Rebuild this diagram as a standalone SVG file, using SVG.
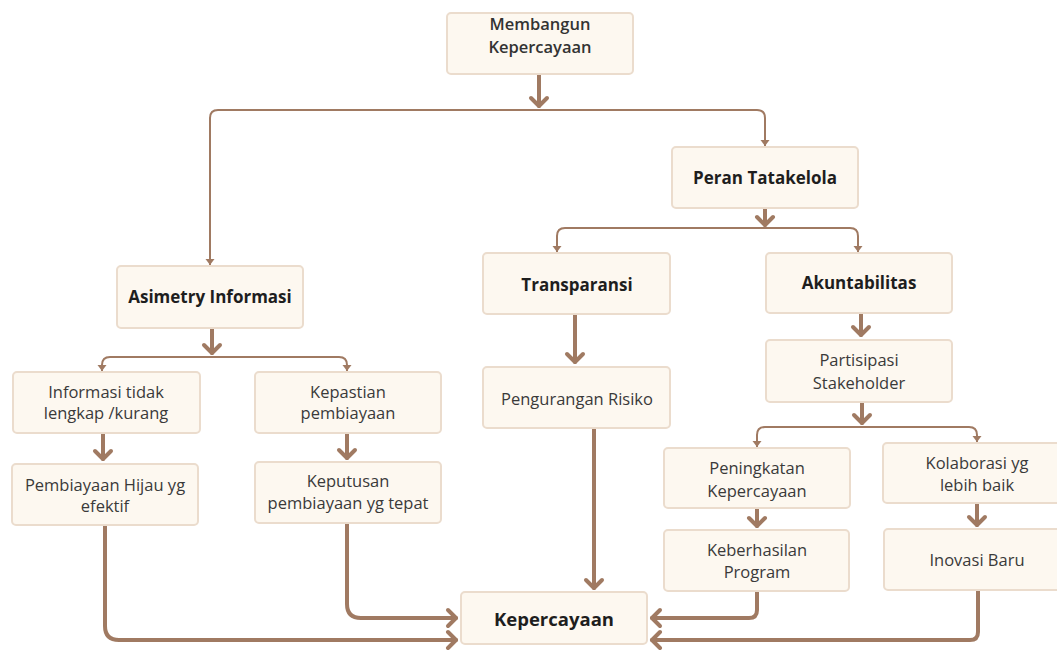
<svg xmlns="http://www.w3.org/2000/svg" width="1057" height="650" viewBox="0 0 1057 650">
<style>
.box{fill:#fdf8f0;stroke:#ebdccd;stroke-width:2}
.t{font-family:"Open Sans","Noto Sans",sans-serif;font-size:16.5px;fill:#3a3a3a;text-anchor:middle}
.b{font-weight:bold;font-size:17px;fill:#1e1e1e}
.k{font-size:18.5px}
.m{font-weight:600;fill:#333}
.thick{fill:none;stroke:#a07a62;stroke-width:4;stroke-linecap:round;stroke-linejoin:round}
.thin{fill:none;stroke:#a07a62;stroke-width:2}
</style>
<defs>
<marker id="chev" markerUnits="userSpaceOnUse" viewBox="-12 -12 24 24" markerWidth="24" markerHeight="24" refX="0" refY="0" orient="auto">
<path d="M-8,-8 L0,0 L-8,8" fill="none" stroke="#a07a62" stroke-width="4" stroke-linecap="round" stroke-linejoin="round"/>
</marker>
<marker id="tri" markerUnits="userSpaceOnUse" viewBox="-10 -10 20 20" markerWidth="20" markerHeight="20" refX="0" refY="0" orient="auto">
<path d="M-6,-4.5 L0,0 L-6,4.5 z" fill="#a07a62"/>
</marker>
</defs>
<rect width="1057" height="650" fill="#ffffff"/>
<g id="connectors">
<path class="thick" d="M539,75 V106" marker-end="url(#chev)"/>
<path class="thin" d="M539,110 H218 Q210,110 210,118 V265" marker-end="url(#tri)"/>
<path class="thin" d="M539,110 H757 Q765,110 765,118 V146" marker-end="url(#tri)"/>
<path class="thick" d="M765,209 V225" marker-end="url(#chev)"/>
<path class="thin" d="M765,228 H565 Q557,228 557,236 V252" marker-end="url(#tri)"/>
<path class="thin" d="M765,228 H850 Q858,228 858,236 V252" marker-end="url(#tri)"/>
<path class="thick" d="M212,329 V353" marker-end="url(#chev)"/>
<path class="thin" d="M212,357 H110 Q102,357 102,365 V371" marker-end="url(#tri)"/>
<path class="thin" d="M212,357 H339 Q347,357 347,365 V371" marker-end="url(#tri)"/>
<path class="thick" d="M103,434 V459" marker-end="url(#chev)"/>
<path class="thick" d="M347,434 V458" marker-end="url(#chev)"/>
<path class="thick" d="M575,315 V362" marker-end="url(#chev)"/>
<path class="thick" d="M861,314 V335" marker-end="url(#chev)"/>
<path class="thick" d="M862,403 V423" marker-end="url(#chev)"/>
<path class="thin" d="M862,427 H765 Q757,427 757,435 V447" marker-end="url(#tri)"/>
<path class="thin" d="M862,427 H969 Q977,427 977,435 V442" marker-end="url(#tri)"/>
<path class="thick" d="M757,509 V526" marker-end="url(#chev)"/>
<path class="thick" d="M977,504 V525" marker-end="url(#chev)"/>
<path class="thick" d="M594,429 V588" marker-end="url(#chev)"/>
<path class="thick" d="M347,524 V604 Q347,618 361,618 H456" marker-end="url(#chev)"/>
<path class="thick" d="M105,526 V626 Q105,640 119,640 H456" marker-end="url(#chev)"/>
<path class="thick" d="M757,592 V610 Q757,618 749,618 H652" marker-end="url(#chev)"/>
<path class="thick" d="M978,591 V632 Q978,640 970,640 H652" marker-end="url(#chev)"/>
</g>
<g id="n-membangun"><rect class="box" x="447" y="13" width="186" height="61" rx="4"/>
<text class="t m" x="540" y="30">Membangun</text><text class="t m" x="540" y="53">Kepercayaan</text></g>
<g id="n-peran"><rect class="box" x="672" y="147" width="186" height="61" rx="4"/>
<text class="t b" x="765" y="184">Peran Tatakelola</text></g>
<g id="n-asimetry"><rect class="box" x="117" y="266" width="186" height="62" rx="4"/>
<text class="t b" x="210" y="303">Asimetry Informasi</text></g>
<g id="n-transparansi"><rect class="box" x="483" y="253" width="187" height="61" rx="4"/>
<text class="t b" x="577" y="291">Transparansi</text></g>
<g id="n-akuntabilitas"><rect class="box" x="766" y="253" width="186" height="60" rx="4"/>
<text class="t b" x="859" y="289">Akuntabilitas</text></g>
<g id="n-partisipasi"><rect class="box" x="766" y="340" width="186" height="62" rx="4"/>
<text class="t" x="859" y="366">Partisipasi</text><text class="t" x="859" y="389">Stakeholder</text></g>
<g id="n-pengurangan"><rect class="box" x="483" y="367" width="187" height="61" rx="4"/>
<text class="t" x="577" y="405">Pengurangan Risiko</text></g>
<g id="n-informasi"><rect class="box" x="13" y="372" width="187" height="61" rx="4"/>
<text class="t" x="106" y="398">Informasi tidak</text><text class="t" x="106" y="419">lengkap /kurang</text></g>
<g id="n-kepastian"><rect class="box" x="255" y="372" width="186" height="61" rx="4"/>
<text class="t" x="348" y="398">Kepastian</text><text class="t" x="348" y="419">pembiayaan</text></g>
<g id="n-hijau"><rect class="box" x="12" y="464" width="186" height="61" rx="4"/>
<text class="t" x="105" y="491">Pembiayaan Hijau yg</text><text class="t" x="105" y="512">efektif</text></g>
<g id="n-keputusan"><rect class="box" x="255" y="462" width="186" height="61" rx="4"/>
<text class="t" x="348" y="487">Keputusan</text><text class="t" x="348" y="509">pembiayaan yg tepat</text></g>
<g id="n-peningkatan"><rect class="box" x="664" y="448" width="186" height="60" rx="4"/>
<text class="t" x="757" y="474">Peningkatan</text><text class="t" x="757" y="497">Kepercayaan</text></g>
<g id="n-keberhasilan"><rect class="box" x="664" y="530" width="185" height="61" rx="4"/>
<text class="t" x="757" y="556">Keberhasilan</text><text class="t" x="757" y="578">Program</text></g>
<g id="n-kolaborasi"><rect class="box" x="883" y="443" width="186" height="60" rx="4"/>
<text class="t" x="977" y="469">Kolaborasi yg</text><text class="t" x="977" y="491">lebih baik</text></g>
<g id="n-inovasi"><rect class="box" x="884" y="529" width="186" height="61" rx="4"/>
<text class="t" x="977" y="566">Inovasi Baru</text></g>
<g id="n-kepercayaan"><rect class="box" x="461" y="592" width="186" height="52" rx="4"/>
<text class="t b k" x="554" y="626">Kepercayaan</text></g>
</svg>
